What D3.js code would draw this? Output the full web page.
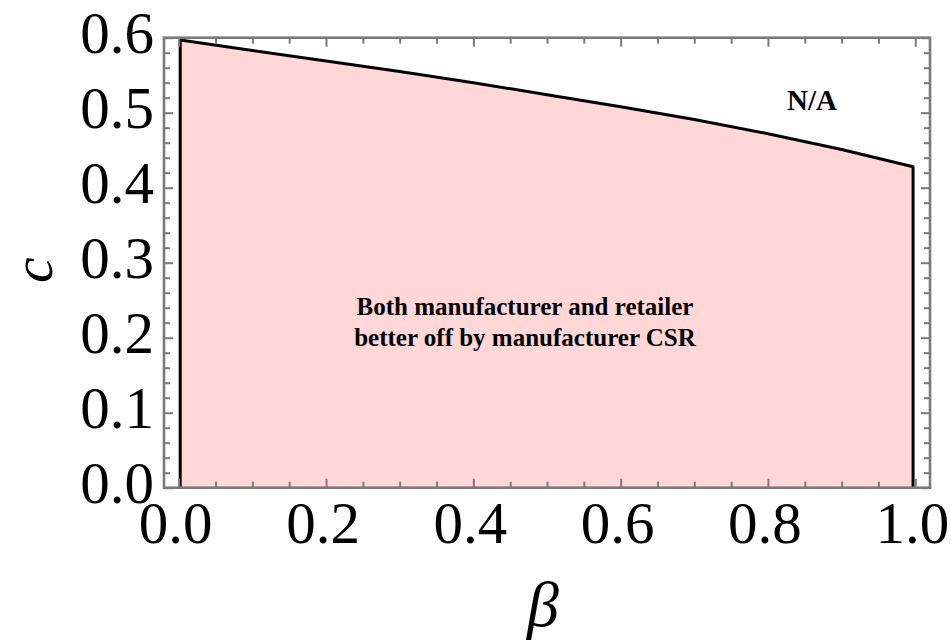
<!DOCTYPE html>
<html>
<head>
<meta charset="utf-8">
<script src="https://cdn.jsdelivr.net/npm/d3@7"></script>
<style>
  body { margin: 0; background: #fff; }
  text { font-family: "Liberation Serif", "DejaVu Serif", serif; }
</style>
</head>
<body>
<svg id="chart"></svg>
<script>
// region boundary: beta vs c
const betaValues = [0.002, 0.1, 0.2, 0.3, 0.4, 0.5, 0.6, 0.7, 0.8, 0.9, 0.997];
const cValues    = [0.597, 0.583, 0.569, 0.555, 0.540, 0.524, 0.508, 0.491, 0.472, 0.451, 0.428];

const xMajorTicks = [0, 0.2, 0.4, 0.6, 0.8, 1.0];
const yMajorTicks = [0, 0.1, 0.2, 0.3, 0.4, 0.5, 0.6];
const xMinorTicks = d3.range(0, 21).map(i => i * 0.05).filter(v => Math.abs(v * 5 - Math.round(v * 5)) > 1e-6);
const yMinorTicks = d3.range(0, 31).map(i => i * 0.02).filter(v => Math.abs(v * 10 - Math.round(v * 10)) > 1e-6);

const regionLabel = ["Both manufacturer and retailer", "better off by manufacturer CSR"];
const naLabel = "N/A";

const width = 950, height = 641;
const frame = { left: 164, right: 930, top: 37.7, bottom: 487.7 };

const svg = d3.select('#chart')
  .attr('width', width)
  .attr('height', height);

const x = d3.scaleLinear().domain([-0.02, 1.02]).range([frame.left, frame.right]);
const y = d3.scaleLinear().domain([0, 0.6]).range([frame.bottom, frame.top]);

const pts = betaValues.map((b, i) => ({ b: b, c: cValues[i] }));

// pink region
const area = d3.area()
  .x(d => x(d.b))
  .y0(y(0))
  .y1(d => y(d.c));

svg.append('path')
  .datum(pts)
  .attr('d', area)
  .attr('fill', '#ffd7d7');

// black outline: left side, curve, right side
const outline = [{ b: betaValues[0], c: 0 }].concat(pts, [{ b: betaValues[betaValues.length - 1], c: 0 }]);
const line = d3.line()
  .x(d => x(d.b))
  .y(d => y(d.c));

svg.append('path')
  .datum(outline)
  .attr('d', line)
  .attr('fill', 'none')
  .attr('stroke', '#000')
  .attr('stroke-width', 3)
  .attr('stroke-linejoin', 'round');

// frame ticks (all four sides, pointing inward)
const gray = '#7a7a7a';
function tickAxis(axisFn, scale, values, size, transform) {
  const g = svg.append('g')
    .attr('transform', transform)
    .call(axisFn(scale).tickValues(values).tickSize(size).tickFormat(''));
  g.select('.domain').remove();
  g.selectAll('line').attr('stroke', gray).attr('stroke-width', 2);
  return g;
}
tickAxis(d3.axisBottom, x, xMajorTicks, -9, `translate(0,${frame.bottom})`);
tickAxis(d3.axisBottom, x, xMinorTicks, -6, `translate(0,${frame.bottom})`);
tickAxis(d3.axisTop, x, xMajorTicks, -9, `translate(0,${frame.top})`);
tickAxis(d3.axisTop, x, xMinorTicks, -6, `translate(0,${frame.top})`);
tickAxis(d3.axisLeft, y, yMajorTicks, -9, `translate(${frame.left},0)`);
tickAxis(d3.axisLeft, y, yMinorTicks, -6, `translate(${frame.left},0)`);
tickAxis(d3.axisRight, y, yMajorTicks, -9, `translate(${frame.right},0)`);
tickAxis(d3.axisRight, y, yMinorTicks, -6, `translate(${frame.right},0)`);

svg.append('rect')
  .attr('x', frame.left)
  .attr('y', frame.top)
  .attr('width', frame.right - frame.left)
  .attr('height', frame.bottom - frame.top)
  .attr('fill', 'none')
  .attr('stroke', gray)
  .attr('stroke-width', 2.6);

// tick labels
svg.selectAll('.xlab')
  .data(xMajorTicks)
  .enter()
  .append('text')
  .attr('class', 'xlab')
  .attr('x', d => x(d) - 3)
  .attr('y', 543)
  .attr('text-anchor', 'middle')
  .attr('font-size', 59)
  .attr('fill', '#000')
  .text(d => d3.format('.1f')(d));

svg.selectAll('.ylab')
  .data(yMajorTicks)
  .enter()
  .append('text')
  .attr('class', 'ylab')
  .attr('x', 154)
  .attr('y', d => y(d) + 15)
  .attr('text-anchor', 'end')
  .attr('font-size', 59)
  .attr('fill', '#000')
  .text(d => d3.format('.1f')(d));

// axis titles
svg.append('text')
  .attr('transform', 'translate(52,270) rotate(-90)')
  .attr('text-anchor', 'middle')
  .attr('font-size', 58)
  .attr('font-style', 'italic')
  .text('c');

svg.append('text')
  .attr('x', 543)
  .attr('y', 626)
  .attr('text-anchor', 'middle')
  .attr('font-size', 64)
  .attr('font-style', 'italic')
  .text('β');

// annotations
svg.append('text')
  .attr('x', 812)
  .attr('y', 110)
  .attr('text-anchor', 'middle')
  .attr('font-size', 29)
  .attr('font-weight', 'bold')
  .text(naLabel);

svg.selectAll('.region-label')
  .data(regionLabel)
  .enter()
  .append('text')
  .attr('class', 'region-label')
  .attr('x', 525)
  .attr('y', (d, i) => 315 + i * 31)
  .attr('text-anchor', 'middle')
  .attr('font-size', 25)
  .attr('font-weight', 'bold')
  .text(d => d);
</script>
</body>
</html>
